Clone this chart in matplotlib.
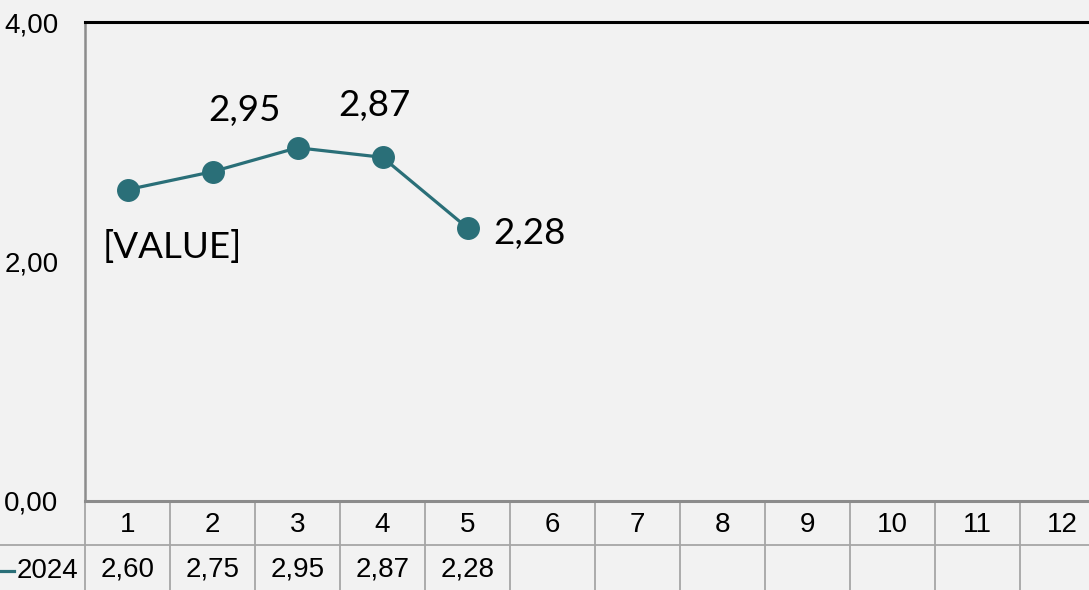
"""Monthly line chart with a data table underneath (2024 series)."""

import matplotlib
matplotlib.use("Agg")
import matplotlib.pyplot as plt
import matplotlib.transforms as mtransforms

# --- data -------------------------------------------------------------
months = [1, 2, 3, 4, 5, 6, 7, 8, 9, 10, 11, 12]
series_name = "2024"
values_2024 = [2.60, 2.75, 2.95, 2.87, 2.28]
point_labels = ["[VALUE]", "", "2,95", "2,87", "2,28"]
y_ticks = [0, 2, 4]
y_tick_labels = ["0,00", "2,00", "4,00"]

LINE_COLOR = "#2a6f78"
BG = "#f2f2f2"
GRID_GRAY = "#a6a6a6"
TABLE_FONT = ["Liberation Sans", "DejaVu Sans"]
LABEL_FONT = ["Lato", "DejaVu Sans"]
TABLE_SIZE = 20

W, H, DPI = 1089, 590, 100
fig = plt.figure(figsize=(W / DPI, H / DPI), dpi=DPI, facecolor=BG)

# axes in pixel terms: left 85, top 22, bottom 501, 85 px per month
ax_l, ax_t, ax_b, col_w = 85, 22, 501, 85
ax_w = col_w * len(months)
ax_h = ax_b - ax_t
ax = fig.add_axes([ax_l / W, (H - ax_b) / H, ax_w / W, ax_h / H])
ax.set_facecolor(BG)

ax.plot(months[:len(values_2024)], values_2024, color=LINE_COLOR, lw=2.3,
        marker="o", ms=15.5, zorder=3, clip_on=False)

# data labels, offsets in pixels from each point
label_offsets = [(-25, -54), None, (-53, 40), (-8, 55), (26, -3)]
label_align = ["left", None, "center", "center", "left"]
for x, y, txt, off, ha in zip(months, values_2024, point_labels,
                              label_offsets, label_align):
    if not txt:
        continue
    ax.annotate(txt, (x, y), xytext=off, textcoords="offset pixels",
                ha=ha, va="center_baseline", fontsize=26.5, family=LABEL_FONT,
                color="black")

ax.set_xlim(0.5, len(months) + 0.5)
ax.set_ylim(0, 4)
ax.set_yticks(y_ticks)
ax.set_yticklabels(y_tick_labels, family=TABLE_FONT, fontsize=TABLE_SIZE)
ax.tick_params(axis="y", length=0, pad=19)
ax.set_xticks([])

ax.spines["right"].set_visible(False)
ax.spines["top"].set_color("black")
ax.spines["top"].set_linewidth(2.2)
ax.spines["left"].set_color("#8c8c8c")
ax.spines["left"].set_linewidth(1.8)
ax.spines["bottom"].set_color("#8c8c8c")
ax.spines["bottom"].set_linewidth(2.2)

# --- data table below the axes ---------------------------------------
row2_bot = -(600 - ax_b) / ax_h        # axes fraction
row1_mid = -(525 - ax_b) / ax_h
row2_mid = -(569 - ax_b) / ax_h
blend = mtransforms.blended_transform_factory(ax.transData, ax.transAxes)

for i, m in enumerate(months):
    ax.text(m, row1_mid, str(m), transform=blend, ha="center", va="center",
            family=TABLE_FONT, fontsize=TABLE_SIZE, clip_on=False)
    if i < len(values_2024):
        ax.text(m, row2_mid, f"{values_2024[i]:.2f}".replace(".", ","),
                transform=blend, ha="center", va="center",
                family=TABLE_FONT, fontsize=TABLE_SIZE, clip_on=False)
for edge in [m - 0.5 for m in months] + [months[-1] + 0.5]:
    ax.plot([edge, edge], [0, row2_bot], transform=blend, color=GRID_GRAY,
            lw=1.3, clip_on=False, zorder=1)

# horizontal line between the category row and the value row
fig.add_artist(plt.Line2D([0, 1], [(H - 545) / H] * 2, color=GRID_GRAY, lw=1.3))

# legend key for the row header
key_y = (H - 571) / H
fig.add_artist(plt.Line2D([0, 14 / W], [key_y, key_y], color=LINE_COLOR, lw=2.3))
fig.text(17 / W, key_y, series_name, ha="left", va="center",
         family=TABLE_FONT, fontsize=TABLE_SIZE)

fig.savefig("out.png", dpi=DPI, facecolor=BG)
